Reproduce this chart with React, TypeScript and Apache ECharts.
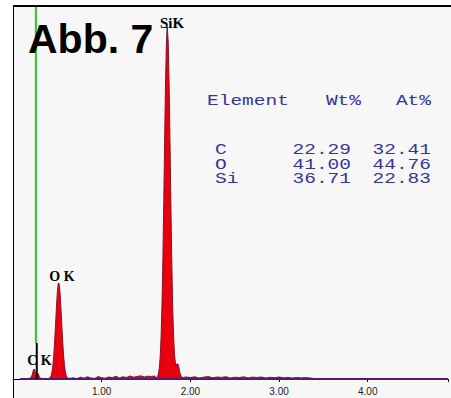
import React, { useEffect, useRef } from 'react';
import * as echarts from 'echarts';

// EDS spectrum, energy in keV, counts above background
const lowEnergy: [number, number][] = [
  [0.08, 0], [0.12, 0], [0.16, 2], [0.2, 10], [0.22, 50], [0.23, 90], [0.24, 100],
  [0.25, 75], [0.26, 40], [0.27, 45], [0.28, 60], [0.29, 40], [0.3, 15], [0.32, 5],
  [0.35, 3], [0.4, 4],
];
const oxygenPeak: [number, number][] = [
  [0.42, 15], [0.43, 35], [0.44, 73], [0.45, 138], [0.46, 239], [0.47, 379], [0.48, 547],
  [0.49, 720], [0.5, 866], [0.51, 949], [0.515, 960], [0.52, 949], [0.53, 866], [0.54, 720],
  [0.55, 547], [0.56, 379], [0.57, 239], [0.58, 138], [0.59, 73], [0.6, 35], [0.61, 15],
  [0.62, 8],
];
const midBackground: [number, number][] = [
  [0.64, 6], [0.68, 12], [0.72, 3], [0.76, 18], [0.8, 8], [0.84, 22], [0.88, 10], [0.92, 5],
  [0.96, 25], [1.0, 12], [1.04, 8], [1.08, 20], [1.12, 14], [1.16, 28], [1.2, 10], [1.24, 22],
  [1.28, 16], [1.32, 30], [1.36, 18], [1.4, 25], [1.44, 32], [1.48, 20], [1.52, 28],
  [1.56, 25], [1.6, 30],
];
const siliconPeak: [number, number][] = [
  [1.61, 10], [1.62, 15], [1.63, 25], [1.64, 50], [1.65, 110], [1.66, 225], [1.67, 425],
  [1.68, 745], [1.69, 1195], [1.7, 1765], [1.71, 2390], [1.72, 2960], [1.73, 3370],
  [1.74, 3520], [1.75, 3370], [1.76, 2960], [1.77, 2390], [1.78, 1765], [1.79, 1195],
  [1.8, 745], [1.81, 440], [1.82, 260], [1.83, 170], [1.84, 140], [1.85, 150], [1.86, 150],
  [1.87, 120], [1.88, 70], [1.89, 40], [1.9, 25], [1.91, 15],
];
const highBackground: [number, number][] = [
  [1.95, 20], [2.0, 15], [2.05, 22], [2.1, 10], [2.15, 18], [2.2, 25], [2.25, 12], [2.3, 20],
  [2.35, 16], [2.4, 23], [2.45, 10], [2.5, 18], [2.55, 14], [2.6, 22], [2.65, 11], [2.7, 19],
  [2.75, 15], [2.8, 20], [2.85, 10], [2.9, 17], [2.95, 13], [3.0, 20], [3.05, 12], [3.1, 16],
  [3.15, 10], [3.2, 15], [3.25, 11], [3.3, 14], [3.35, 10], [3.4, 4], [3.45, 2], [3.5, 5],
  [3.6, 1], [3.7, 3], [3.8, 0], [3.9, 4], [4.0, 1], [4.1, 0], [4.2, 3], [4.3, 0], [4.4, 2],
  [4.5, 0], [4.6, 1], [4.7, 0], [4.8, 2], [4.905, 0],
];
const baselineEnergies = [0.08, 4.905];

// peak markers
const peakNames = ['C K', 'O K', 'SiK'];
const peakEnergies = [0.268, 0.512, 1.735];
const peakTops = [360, 960, 3520];
const cursorEnergy = 0.258;

// quantification table
const tableHeader = ['Element', 'Wt%', 'At%'];
const elements = ['C', 'O', 'Si'];
const wtPercent = ['22.29', '41.00', '36.71'];
const atPercent = ['32.41', '44.76', '22.83'];

const xMin = 0;
const xMax = 4.905;
const yMax = 3740;

export default function App() {
  const ref = useRef<HTMLDivElement>(null);
  useEffect(() => {
    if (!ref.current) return;
    const chart = echarts.init(ref.current, undefined, { renderer: 'svg' });
    const spectrum = [...lowEnergy, ...oxygenPeak, ...midBackground, ...siliconPeak, ...highBackground];
    const tableColor = '#34349a';
    const mono = '"Liberation Mono", "Courier New", monospace';
    const headerY = 101;
    const rowYs = [150.5, 165, 179.5];
    const cell = (text: string, x: number, y: number, align: string) => ({
      type: 'text',
      z: 100,
      x,
      y,
      scaleX: 1.3,
      style: {
        text, x: 0, y: 0, fill: tableColor, font: `15px ${mono}`, lineHeight: 14,
        textAlign: align, textVerticalAlign: 'middle',
      },
    });
    const texts: any[] = [
      cell(tableHeader[0], 207, headerY, 'left'),
      cell(tableHeader[1], 361, headerY, 'right'),
      cell(tableHeader[2], 431, headerY, 'right'),
    ];
    elements.forEach((el, i) => {
      texts.push(cell(el, 215, rowYs[i], 'left'));
      texts.push(cell(wtPercent[i], 351, rowYs[i], 'right'));
      texts.push(cell(atPercent[i], 431, rowYs[i], 'right'));
    });
    const labelPos = [[39.5, 360], [62, 276], [172, 23]];
    const labelSize = [14, 14, 15];
    peakNames.forEach((n, i) => {
      texts.push({
        type: 'text', z: 100,
        style: {
          text: n, x: labelPos[i][0], y: labelPos[i][1], fill: '#000',
          font: `bold ${labelSize[i]}px "Liberation Serif", "Times New Roman", serif`,
          textAlign: 'center', textVerticalAlign: 'middle',
        },
      });
    });
    texts.push({ type: 'text', z: 100, style: { text: 'Abb. 7', x: 28, y: 39, fill: '#000', font: 'bold 41px "Liberation Sans", Arial, sans-serif', textAlign: 'left', textVerticalAlign: 'middle' } });
    texts.push({ type: 'line', z: 100, shape: { x1: 13, y1: 6, x2: 451, y2: 6 }, style: { stroke: '#000', lineWidth: 2 } });
    texts.push({ type: 'line', z: 100, shape: { x1: 13.5, y1: 5, x2: 13.5, y2: 398 }, style: { stroke: '#000', lineWidth: 1 } });

    const markerSeries = [1, 2].map((i) => ({
      type: 'line',
      data: [[peakEnergies[i], peakTops[i]], [peakEnergies[i], 0]],
      symbol: 'none',
      silent: true,
      z: 1,
      lineStyle: { color: '#5fdcea', width: 1.5 },
    }));

    chart.setOption({
      animation: false,
      grid: { left: 13, right: 0, top: 5, bottom: 19 },
      xAxis: {
        type: 'value',
        min: xMin,
        max: xMax,
        interval: 1,
        offset: 3,
        axisLine: { lineStyle: { color: '#000', width: 1 } },
        axisTick: { length: 3, lineStyle: { color: '#000' } },
        splitLine: { show: false },
        axisLabel: {
          fontSize: 10,
          color: '#222',
          margin: 4,
          fontFamily: '"Liberation Sans", Arial, sans-serif',
          formatter: (v: number) => (v > 0 && Math.abs(v - Math.round(v)) < 1e-6 ? v.toFixed(2) : ''),
        },
      },
      yAxis: { type: 'value', min: 0, max: yMax, show: false, splitLine: { show: false } },
      graphic: texts,
      series: [
        ...markerSeries,
        {
          type: 'line',
          data: spectrum,
          symbol: 'none',
          silent: true,
          z: 3,
          lineStyle: { color: '#8c1026', width: 1 },
          areaStyle: { color: '#e8000e', opacity: 1 },
        },
        {
          type: 'line',
          data: baselineEnergies.map((e) => [e, 0]),
          symbol: 'none',
          silent: true,
          z: 4,
          lineStyle: { color: '#561a6c', width: 2 },
        },
        {
          type: 'line',
          data: [[cursorEnergy, yMax], [cursorEnergy, peakTops[0]]],
          symbol: 'none',
          silent: true,
          z: 5,
          lineStyle: { color: '#22cc22', width: 2 },
        },
        {
          type: 'line',
          data: [[peakEnergies[0], peakTops[0]], [peakEnergies[0], 0]],
          symbol: 'none',
          silent: true,
          z: 5,
          lineStyle: { color: '#000', width: 2 },
        },
      ],
    });
    return () => chart.dispose();
  }, []);

  return (
    <div style={{ position: 'fixed', left: 0, top: 0, width: 451, height: 398, background: '#fff' }}>
      <div style={{ position: 'absolute', left: 13, top: 5, right: 0, bottom: 0, background: '#f7f7f7' }} />
      <div ref={ref} style={{ position: 'absolute', left: 0, top: 0, width: 451, height: 398 }} />
    </div>
  );
}
